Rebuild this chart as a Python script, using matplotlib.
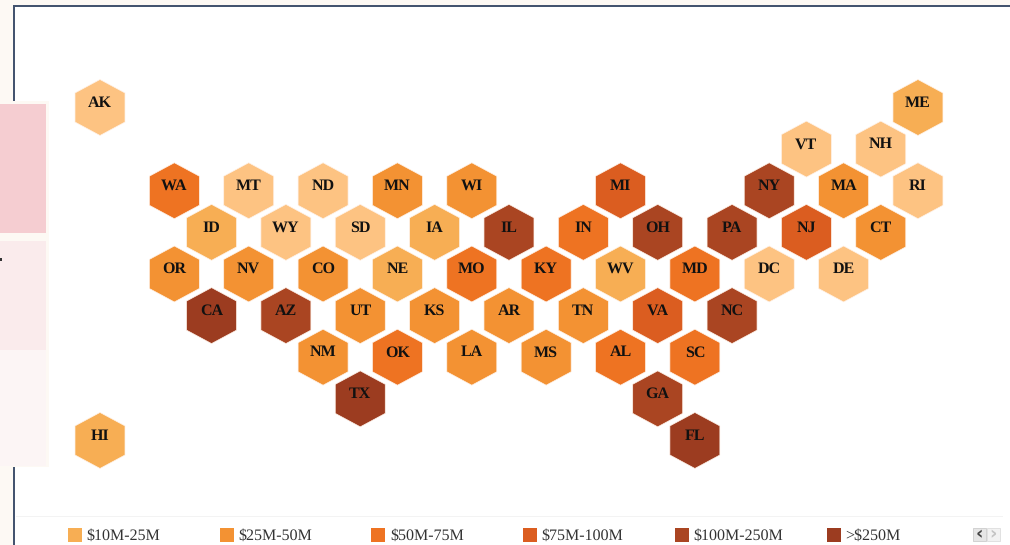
import matplotlib
matplotlib.use('Agg')
import matplotlib.pyplot as plt
from matplotlib.patches import Rectangle
from matplotlib.path import Path
from matplotlib.transforms import Affine2D

# tile grid: col is in half steps, row is one hex row
states = ['AK', 'ME',
          'VT', 'NH',
          'WA', 'MT', 'ND', 'MN', 'WI', 'MI', 'NY', 'MA', 'RI',
          'ID', 'WY', 'SD', 'IA', 'IL', 'IN', 'OH', 'PA', 'NJ', 'CT',
          'OR', 'NV', 'CO', 'NE', 'MO', 'KY', 'WV', 'MD', 'DC', 'DE',
          'CA', 'AZ', 'UT', 'KS', 'AR', 'TN', 'VA', 'NC',
          'NM', 'OK', 'LA', 'MS', 'AL', 'SC',
          'TX', 'GA',
          'HI', 'FL']
cols = [0, 22,
        19, 21,
        2, 4, 6, 8, 10, 14, 18, 20, 22,
        3, 5, 7, 9, 11, 13, 15, 17, 19, 21,
        2, 4, 6, 8, 10, 12, 14, 16, 18, 20,
        3, 5, 7, 9, 11, 13, 15, 17,
        6, 8, 10, 12, 14, 16,
        7, 15,
        0, 16]
rows = [0, 0,
        1, 1,
        2, 2, 2, 2, 2, 2, 2, 2, 2,
        3, 3, 3, 3, 3, 3, 3, 3, 3, 3,
        4, 4, 4, 4, 4, 4, 4, 4, 4, 4,
        5, 5, 5, 5, 5, 5, 5, 5,
        6, 6, 6, 6, 6, 6,
        7, 7,
        8, 8]
# funding bin per state, 0 is the lightest one (its legend entry is on the hidden page)
bins = [0, 1,
        0, 0,
        3, 0, 0, 2, 2, 4, 5, 2, 0,
        1, 0, 0, 1, 5, 3, 5, 5, 4, 2,
        2, 2, 2, 1, 3, 3, 1, 3, 0, 0,
        6, 5, 2, 2, 2, 2, 4, 5,
        2, 3, 2, 2, 3, 3,
        6, 5,
        1, 6]
bin_colors = ['#FDC382', '#F7AE54', '#F39233', '#EE7322', '#DB5D20', '#AA4522', '#9C3C20']
legend_labels = ['$10M-25M', '$25M-50M', '$50M-75M', '$75M-100M', '$100M-250M', '>$250M']

W, H = 1010, 545
plt.rcParams['font.family'] = ['Liberation Serif', 'DejaVu Serif']
plt.rcParams['text.parse_math'] = False
plt.rcParams['text.hinting'] = 'no_hinting'
plt.rcParams['text.hinting_factor'] = 1

fig = plt.figure(figsize=(W / 100, H / 100), dpi=100, facecolor='#FDF9F4')

# pixel space for the page around the chart, y goes down
px = Affine2D().scale(1, -1).translate(0, H)


def box(x, y, w, h, color, z=1, edge='none', lw=0):
    fig.add_artist(Rectangle((x, y), w, h, transform=px, facecolor=color,
                             edgecolor=edge, linewidth=lw, zorder=z))


box(15, 7, W - 15, H - 7, 'white')
box(13, 5, W - 13, 2.2, '#44546F', z=2)
box(13, 5, 2.2, H - 5, '#44546F', z=2)
box(0, 101, 49, 366, '#FDF9F4', z=3)
box(0, 104, 46, 129, '#F5CDD1', z=4)
box(0, 241, 46, 109, '#FAEBEC', z=4)
box(0, 350, 46, 116, '#FCF5F5', z=4)
box(0, 258, 2, 3, '#333333', z=5)  # end of a cut off word in the side panel
box(16, 516, 987, 1, '#F3F3F3', z=2)

# hex tiles, axes scaled so one col/row step is the tile spacing
col_step = 37.18
row_step = 41.62
x0, y0 = 100, 107.5
ax = fig.add_axes([0, 0, 1, 1], zorder=5)
ax.set_xlim(-x0 / col_step, (W - x0) / col_step)
ax.set_ylim((H - y0) / row_step, -y0 / row_step)
ax.axis('off')

# the tiles are a bit wider than a regular hexagon
hw = 0.893
hex_marker = Path([(0, 1), (hw, 0.52), (hw, -0.52), (0, -1), (-hw, -0.52), (-hw, 0.52), (0, 1)], closed=True)
ax.scatter(cols, rows, s=1626, marker=hex_marker, c=[bin_colors[b] for b in bins],
           edgecolors='#FFF3EA', linewidths=0.5)
for name, c, r in zip(states, cols, rows):
    ax.annotate(name, (c, r), xytext=(0, 0.6), textcoords='offset points',
                ha='center', va='baseline', fontsize=11.6, fontweight='bold', color='#111111')

# legend row, no room for the full text at the bottom edge
for i, label in enumerate(legend_labels):
    lx = 68 + 151.7 * i
    box(lx, 528, 14, 14, bin_colors[i + 1], z=6)
    fig.text((lx + 18.5) / W, 1 - 540 / H, label, fontsize=11.4, color='#333333', zorder=6)

# legend pager buttons
box(973, 528, 13, 13, '#E6E6E6', z=6, edge='#CCCCCC', lw=0.6)
box(987, 528, 13, 13, '#F2F2F2', z=6, edge='#DDDDDD', lw=0.6)
fig.text(979.5 / W, 1 - 534.5 / H, '‹', fontsize=13, fontweight='bold', color='#444444',
         family='DejaVu Sans', ha='center', va='center', zorder=7)
fig.text(993.5 / W, 1 - 534.5 / H, '›', fontsize=13, fontweight='bold', color='#C4C4C4',
         family='DejaVu Sans', ha='center', va='center', zorder=7)

fig.savefig('out.png', dpi=100, facecolor=fig.get_facecolor())
